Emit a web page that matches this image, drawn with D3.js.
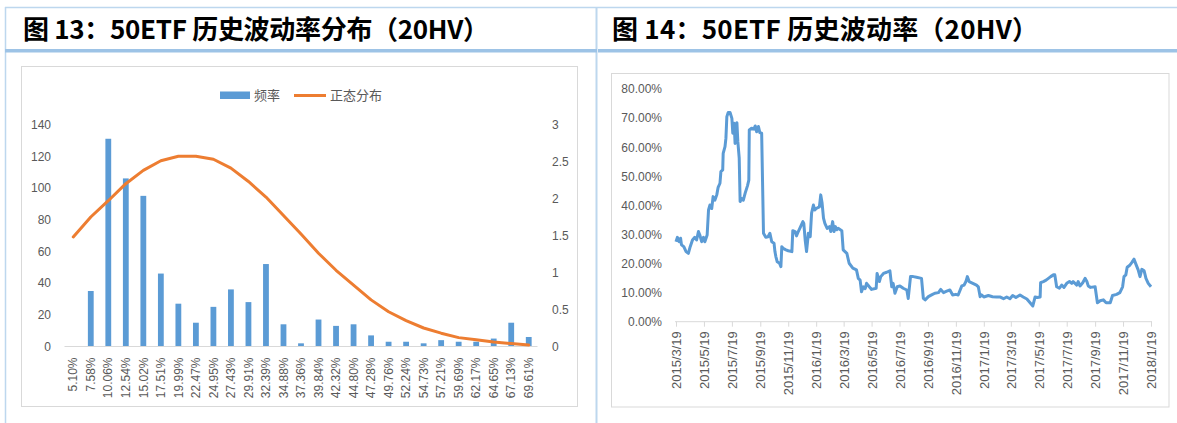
<!DOCTYPE html>
<html><head><meta charset="utf-8">
<script src="https://cdn.jsdelivr.net/npm/d3@7/dist/d3.min.js"></script>
<style>body{margin:0;background:#fff;} svg{display:block;}</style>
</head><body>
<svg id="c" width="1177" height="423"></svg>
<script>
// ---------- data: left chart (figure 13) ----------
const binLabels = ["5.10%","7.58%","10.06%","12.54%","15.02%","17.51%","19.99%","22.47%","24.95%","27.43%","29.91%","32.39%","34.88%","37.36%","39.84%","42.32%","44.80%","47.28%","49.76%","52.24%","54.73%","57.21%","59.69%","62.17%","64.65%","67.13%","69.61%"];
const freqValues = [0,35,131,106,95,46,27,15,25,36,28,52,14,2,17,13,14,7,3,3,2,4,3,3,5,15,6];
const normalValues = [1.48,1.75,1.97,2.20,2.38,2.51,2.57,2.57,2.53,2.41,2.23,2.02,1.77,1.52,1.26,1.03,0.83,0.63,0.47,0.35,0.25,0.18,0.12,0.09,0.06,0.04,0.02];
const leftTicks = [0,20,40,60,80,100,120,140];
const rightTicks = [0,0.5,1,1.5,2,2.5,3];
const legendLabels = ["频率","正态分布"];

// ---------- data: right chart (figure 14) ----------
const hvDates = ["2015-03-19","2015-03-22","2015-03-26","2015-03-29","2015-03-31","2015-04-05","2015-04-10","2015-04-15","2015-04-19","2015-04-24","2015-04-29","2015-05-03","2015-05-07","2015-05-10","2015-05-14","2015-05-18","2015-05-21","2015-05-26","2015-05-29","2015-06-01","2015-06-05","2015-06-08","2015-06-12","2015-06-16","2015-06-19","2015-06-23","2015-06-25","2015-06-29","2015-06-30","2015-07-04","2015-07-06","2015-07-08","2015-07-11","2015-07-15","2015-07-19","2015-07-21","2015-07-24","2015-07-26","2015-07-30","2015-08-01","2015-08-04","2015-08-06","2015-08-09","2015-08-13","2015-08-17","2015-08-22","2015-08-25","2015-08-26","2015-08-31","2015-09-05","2015-09-08","2015-09-11","2015-09-15","2015-09-18","2015-09-22","2015-09-26","2015-10-01","2015-10-06","2015-10-10","2015-10-14","2015-10-19","2015-10-21","2015-10-23","2015-10-26","2015-10-31","2015-11-03","2015-11-05","2015-11-08","2015-11-14","2015-11-19","2015-11-27","2015-11-29","2015-12-04","2015-12-07","2015-12-11","2015-12-16","2015-12-21","2015-12-23","2015-12-26","2015-12-29","2016-01-02","2016-01-06","2016-01-09","2016-01-13","2016-01-16","2016-01-20","2016-01-26","2016-01-29","2016-02-01","2016-02-04","2016-02-07","2016-02-12","2016-02-17","2016-02-20","2016-02-24","2016-02-27","2016-03-01","2016-03-04","2016-03-07","2016-03-15","2016-03-18","2016-03-26","2016-03-31","2016-04-08","2016-04-16","2016-04-20","2016-04-24","2016-04-27","2016-05-01","2016-05-05","2016-05-08","2016-05-14","2016-05-19","2016-05-29","2016-05-31","2016-06-05","2016-06-08","2016-06-14","2016-06-21","2016-06-28","2016-07-02","2016-07-05","2016-07-09","2016-07-14","2016-07-20","2016-07-27","2016-08-04","2016-08-07","2016-08-12","2016-08-18","2016-08-25","2016-09-05","2016-09-09","2016-09-13","2016-09-20","2016-09-27","2016-10-04","2016-10-12","2016-10-17","2016-10-23","2016-10-30","2016-11-06","2016-11-12","2016-11-19","2016-11-24","2016-12-02","2016-12-07","2016-12-11","2016-12-14","2016-12-18","2016-12-26","2017-01-03","2017-01-07","2017-01-11","2017-01-14","2017-01-19","2017-01-29","2017-02-07","2017-02-16","2017-02-23","2017-03-03","2017-03-10","2017-03-17","2017-03-23","2017-03-30","2017-04-08","2017-04-15","2017-04-23","2017-04-30","2017-05-06","2017-05-11","2017-05-16","2017-05-22","2017-05-23","2017-05-29","2017-06-04","2017-06-09","2017-06-14","2017-06-20","2017-06-23","2017-06-27","2017-07-03","2017-07-08","2017-07-13","2017-07-19","2017-07-25","2017-07-30","2017-08-02","2017-08-10","2017-08-13","2017-08-17","2017-08-23","2017-08-28","2017-09-01","2017-09-04","2017-09-09","2017-09-19","2017-09-24","2017-09-30","2017-10-07","2017-10-13","2017-10-22","2017-10-27","2017-11-05","2017-11-12","2017-11-18","2017-11-21","2017-11-25","2017-11-28","2017-12-03","2017-12-08","2017-12-13","2017-12-17","2017-12-22","2017-12-26","2017-12-30","2018-01-04","2018-01-08","2018-01-13","2018-01-19"];
const hvValues = [27.5,29.0,27.5,28.7,26.4,25.8,24.1,23.5,25.8,28.1,29.0,28.1,31.0,29.8,27.5,29.0,27.5,29.8,38.4,40.1,38.9,43.0,41.8,43.6,46.2,47.6,51.6,52.2,57.9,60.2,63.1,70.5,71.9,71.9,69.9,64.8,68.2,61.3,68.4,61.9,56.2,41.3,42.4,41.8,44.2,46.7,48.7,65.9,66.5,66.2,67.3,65.3,67.1,65.0,64.8,30.4,29.0,29.2,30.4,27.5,27.0,24.1,22.4,20.6,20.1,18.9,25.8,25.2,24.7,24.4,24.1,31.3,31.0,29.5,31.0,32.7,34.4,33.8,28.1,24.1,30.4,29.2,37.3,40.1,38.4,39.0,39.5,43.6,40.7,35.6,33.8,32.1,32.7,31.0,34.4,31.0,32.7,31.6,32.1,31.3,24.7,23.5,20.1,18.4,17.8,14.9,14.3,10.3,12.0,11.4,13.2,12.0,11.1,11.5,16.6,13.8,15.5,16.6,17.0,17.5,12.0,13.2,9.8,12.0,12.3,11.5,10.9,8.0,15.5,15.5,15.3,14.9,8.0,7.5,8.6,9.2,9.8,10.0,11.1,10.0,10.5,10.9,9.2,9.4,9.2,12.3,12.6,13.8,15.5,13.8,13.2,12.6,12.0,8.6,9.2,8.5,9.0,8.6,8.5,8.5,7.9,8.5,7.9,9.0,8.3,9.2,8.5,7.8,6.5,5.4,8.5,8.3,8.5,13.4,13.8,14.3,14.9,15.5,16.1,16.1,12.0,11.5,12.6,11.8,13.2,13.8,13.2,13.8,12.6,13.8,12.3,13.4,14.9,13.8,12.3,11.8,12.0,6.5,7.2,7.5,6.5,6.5,9.0,9.4,10.0,12.0,15.5,16.1,18.7,19.3,20.3,21.5,19.8,17.8,15.5,18.0,17.5,14.9,13.2,12.0];
const hvTickDates = ["2015-03-19","2015-05-19","2015-07-19","2015-09-19","2015-11-19","2016-01-19","2016-03-19","2016-05-19","2016-07-19","2016-09-19","2016-11-19","2017-01-19","2017-03-19","2017-05-19","2017-07-19","2017-09-19","2017-11-19","2018-01-19"];
const hvTicks = [0,10,20,30,40,50,60,70,80];
const titles = ["图 13：50ETF 历史波动率分布（20HV）","图 14：50ETF 历史波动率（20HV）"];

// ---------- drawing ----------
const svg = d3.select("#c");
const GRAY = "#595959", AX = "#D9D9D9", BLUE = "#5B9BD5", ORANGE = "#ED7D31";
const FONT = "'Liberation Sans', Arial, sans-serif";
const CJK = "'Noto Sans CJK SC', sans-serif";

// page frame
svg.append("line").attr("x1",5).attr("x2",1177).attr("y1",7.5).attr("y2",7.5).attr("stroke","#BDD7EE").attr("stroke-width",1.5);
svg.append("line").attr("x1",5.5).attr("x2",5.5).attr("y1",7).attr("y2",423).attr("stroke","#BDD7EE").attr("stroke-width",1.5);
svg.append("line").attr("x1",596.5).attr("x2",596.5).attr("y1",7).attr("y2",423).attr("stroke","#BDD7EE").attr("stroke-width",2);
svg.append("rect").attr("x",5).attr("y",49).attr("width",592).attr("height",3.5).attr("fill","#9DC3E6");
svg.append("rect").attr("x",598).attr("y",49).attr("width",579).attr("height",3.5).attr("fill","#9DC3E6");

svg.append("text").attr("x",23).attr("y",39).text(titles[0])
  .attr("font-family",CJK).attr("font-weight","bold").attr("font-size",26).attr("fill","#000")
  .attr("textLength",466).attr("lengthAdjust","spacing");
svg.append("text").attr("x",612).attr("y",39).text(titles[1])
  .attr("font-family",CJK).attr("font-weight","bold").attr("font-size",26).attr("fill","#000")
  .attr("textLength",426).attr("lengthAdjust","spacing");

// ===== left chart =====
svg.append("rect").attr("x",21.5).attr("y",66.5).attr("width",556).attr("height",340).attr("fill","none").attr("stroke",AX);

const xB = d3.scaleBand().domain(binLabels).range([64.5,537.5]);
const yL = d3.scaleLinear().domain([0,140]).range([346.5,124.5]);
const yR = d3.scaleLinear().domain([0,3]).range([346.5,124.5]);
const barW = 5.8;

const gL = svg.append("g");
gL.selectAll("rect.bar").data(freqValues).join("rect").attr("class","bar")
  .attr("x",(d,i)=>xB(binLabels[i])+xB.bandwidth()/2-barW/2)
  .attr("y",d=>yL(d)).attr("width",barW).attr("height",d=>yL(0)-yL(d)).attr("fill",BLUE);

gL.append("line").attr("x1",64.5).attr("x2",537.5).attr("y1",yL(0)).attr("y2",yL(0)).attr("stroke",AX).attr("stroke-width",1);

const normLine = d3.line().x((d,i)=>xB(binLabels[i])+xB.bandwidth()/2).y(d=>yR(d));
gL.append("path").attr("d",normLine(normalValues)).attr("fill","none").attr("stroke",ORANGE).attr("stroke-width",3).attr("stroke-linejoin","round").attr("stroke-linecap","round");

const axL = svg.append("g").attr("transform","translate(55,0)").call(d3.axisLeft(yL).tickValues(leftTicks).tickSize(0).tickPadding(4));
axL.select(".domain").remove();
axL.selectAll("text").attr("font-family",FONT).attr("font-size",12).attr("fill",GRAY);
const axR = svg.append("g").attr("transform","translate(548,0)").call(d3.axisRight(yR).tickValues(rightTicks).tickSize(0).tickPadding(4).tickFormat(d=>String(d)));
axR.select(".domain").remove();
axR.selectAll("text").attr("font-family",FONT).attr("font-size",12).attr("fill",GRAY);

gL.selectAll("text.xl").data(binLabels).join("text").attr("class","xl")
  .attr("transform",d=>`translate(${xB(d)+xB.bandwidth()/2},${yL(0)+11}) rotate(-90)`)
  .attr("text-anchor","end").attr("dy","0.35em")
  .attr("font-family",FONT).attr("font-size",12).attr("fill",GRAY).text(d=>d);

// legend
svg.append("rect").attr("x",220).attr("y",91.5).attr("width",30).attr("height",7.5).attr("fill",BLUE);
svg.append("text").attr("x",254).attr("y",95.5).attr("dy","0.35em").text(legendLabels[0]).attr("font-family",CJK).attr("font-size",13).attr("fill",GRAY);
svg.append("line").attr("x1",294).attr("x2",326).attr("y1",95.5).attr("y2",95.5).attr("stroke",ORANGE).attr("stroke-width",3);
svg.append("text").attr("x",330).attr("y",95.5).attr("dy","0.35em").text(legendLabels[1]).attr("font-family",CJK).attr("font-size",13).attr("fill",GRAY);

// ===== right chart =====
svg.append("rect").attr("x",611.5).attr("y",73.5).attr("width",557.5).attr("height",333.5).attr("fill","none").attr("stroke",AX);

const parse = d3.timeParse("%Y-%m-%d");
const xT = d3.scaleTime().domain([parse("2015-03-19"),parse("2018-01-19")]).range([676,1151]);
const yH = d3.scaleLinear().domain([0,80]).range([321.7,89]);

const axH = svg.append("g").attr("transform","translate(666,0)").call(d3.axisLeft(yH).tickValues(hvTicks).tickSize(0).tickPadding(4).tickFormat(d=>d.toFixed(2)+"%"));
axH.select(".domain").remove();
axH.selectAll("text").attr("font-family",FONT).attr("font-size",12).attr("fill",GRAY);

const axT = svg.append("g").attr("transform",`translate(0,${yH(0)})`)
  .call(d3.axisBottom(xT).tickValues(hvTickDates.map(parse)).tickSize(5).tickFormat(d3.timeFormat("%Y/%-m/%-d")));
axT.select(".domain").attr("d","M675,0H1152").attr("stroke",AX);
axT.selectAll("line").attr("stroke",AX);
axT.selectAll("text").attr("transform","rotate(-90)").attr("text-anchor","end").attr("x",-9.5).attr("y",0).attr("dy","0.35em")
  .attr("font-family",FONT).attr("font-size",13).attr("fill",GRAY);

const hvLine = d3.line().x((d,i)=>xT(parse(hvDates[i]))).y(d=>yH(d));
svg.append("path").attr("d",hvLine(hvValues)).attr("fill","none").attr("stroke",BLUE).attr("stroke-width",3).attr("stroke-linejoin","round");
</script>
</body></html>
